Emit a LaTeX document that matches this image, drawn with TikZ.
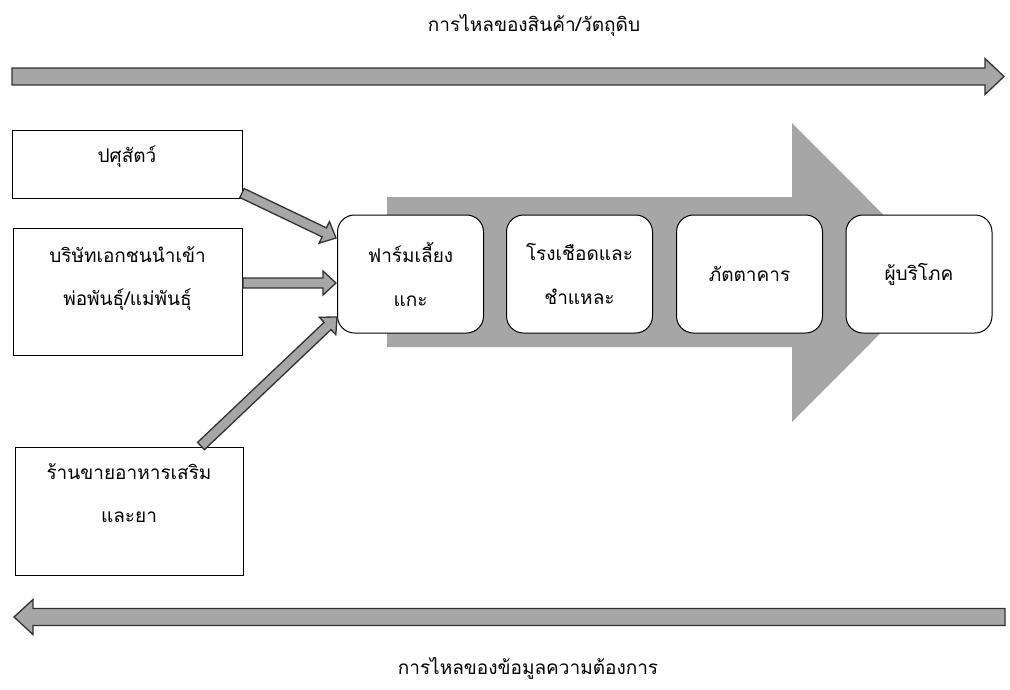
\documentclass[tikz,border=0pt]{standalone}
\usepackage{fontspec}
\newfontfamily\thai[Script=Thai]{Loma}
\usetikzlibrary{calc}
\definecolor{agray}{RGB}{166,166,166}
\definecolor{aline}{RGB}{50,50,50}
\tikzset{
  sqbox/.style={draw=black, line width=1pt, fill=white, minimum width=230pt, inner sep=0pt},
  rbox/.style={draw=black, line width=1pt, fill=white, rounded corners=17pt,
    minimum width=146pt, minimum height=118pt, inner sep=0pt, align=center,
    font=\thai\fontsize{19}{44}\selectfont},
  lbl/.style={font=\thai\fontsize{19}{22}\selectfont, inner sep=0pt},
  blockarr/.style={fill=agray, draw=aline, line width=1.3pt, line join=miter},
  bigarr/.style={fill=agray, draw=none},
}
% from, to, shaft half width, head half width, head length
\newcommand\blockarrow[5]{%
  \coordinate (bac) at ($(#2)!#5!(#1)$);
  \path[blockarr] ($(#1)!#3!90:(#2)$) -- ($(bac)!#3!90:(#2)$) -- ($(bac)!#4!90:(#2)$)
    -- (#2) -- ($(bac)!#4!-90:(#2)$) -- ($(bac)!#3!-90:(#2)$) -- ($(#1)!#3!-90:(#2)$) -- cycle;}
\begin{document}
\begin{tikzpicture}[x=1pt,y=-1pt]
\useasboundingbox (0,0) rectangle (1010,689);
% top and bottom flow arrows
\node[lbl] (toptxt) at (534,25) {การไหลของสินค้า/วัตถุดิบ};
\coordinate (ts) at (12,76.5);
\coordinate (te) at (1004,76.5);
\blockarrow{ts}{te}{8.5pt}{18pt}{19pt}
\coordinate (bs) at (1005,617);
\coordinate (be) at (14,617);
\blockarrow{bs}{be}{8.5pt}{17.5pt}{19pt}
\node[lbl] (bottxt) at (528,668) {การไหลของข้อมูลความต้องการ};
% big background arrow
\path[bigarr] (387,197) -- (792,197) -- (792,123) -- (941,272.5) -- (792,422) -- (792,347) -- (387,347) -- cycle;
% left boxes
\node[sqbox, minimum height=68pt] (pasu) at (127,164) {};
\node[lbl] (pasutxt) at ($(pasu.north)+(0,27)$) {ปศุสัตว์};
\node[sqbox, minimum height=127pt, minimum width=229pt] (bri) at (127.5,291.5) {};
\node[lbl] (britxt1) at ($(bri.north)+(0,27)$) {บริษัทเอกชนนำเข้า};
\node[lbl] (britxt2) at ($(bri.north)+(0,72)$) {พ่อพันธุ์/แม่พันธุ์};
\node[sqbox, minimum height=128pt, minimum width=228pt] (ran) at (129,511) {};
\node[lbl] (rantxt1) at ($(ran.north)+(0,25)$) {ร้านขายอาหารเสริม};
\node[lbl] (rantxt2) at ($(ran.north)+(0,71)$) {และยา};
% chain boxes
\node[rbox] (farm) at (410.5,274) {ฟาร์มเลี้ยง\\แกะ};
\node[rbox] (slau) at (579.5,274) {โรงเชือดและ\\ชำแหละ};
\node[rbox] (rest) at (749.5,274) {ภัตตาคาร};
\node[rbox] (cons) at (919,274) {ผู้บริโภค};
% small arrows into the farm
\coordinate (a1s) at (242,193);
\coordinate (a1e) at ($(farm.west)+(-1,-36)$);
\blockarrow{a1s}{a1e}{5pt}{12pt}{13pt}
\coordinate (a2s) at (243,283);
\coordinate (a2e) at ($(farm.west)+(-1,9)$);
\blockarrow{a2s}{a2e}{5pt}{12pt}{13pt}
\coordinate (a3s) at (201,446);
\coordinate (a3e) at ($(farm.west)+(0,43)$);
\blockarrow{a3s}{a3e}{5pt}{12pt}{13pt}
\end{tikzpicture}
\end{document}
